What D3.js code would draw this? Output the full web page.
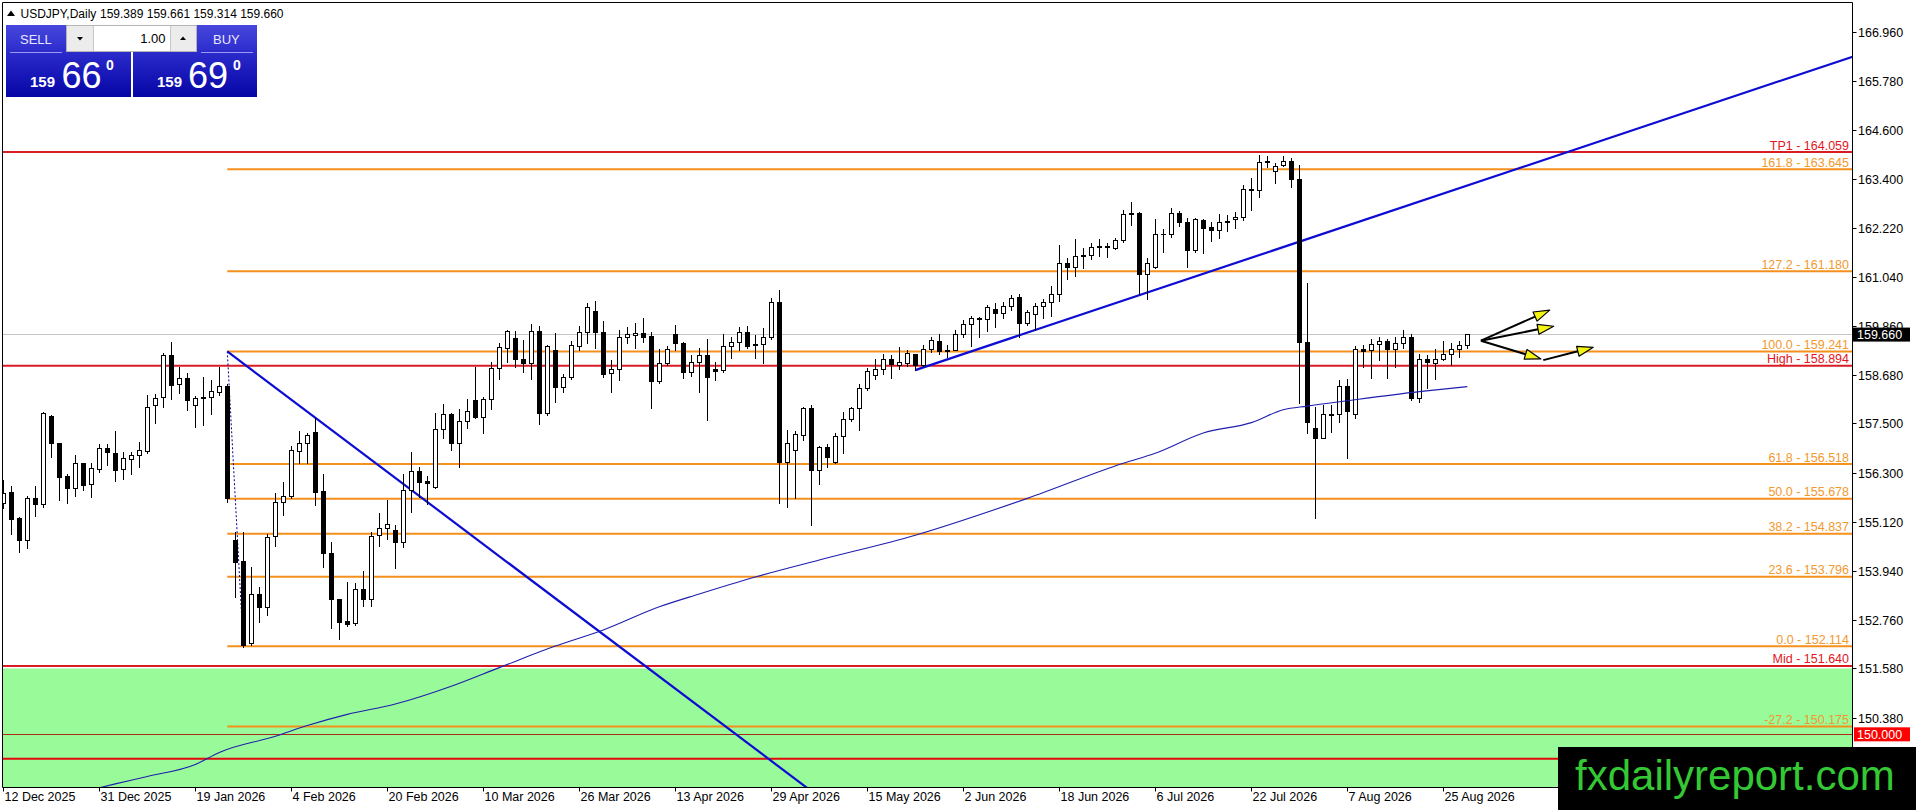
<!DOCTYPE html>
<html><head><meta charset="utf-8">
<script src="https://cdn.jsdelivr.net/npm/d3@7/dist/d3.min.js"></script>
<style>
html,body{margin:0;padding:0;background:#fff;overflow:hidden}
svg{display:block}
text{font-family:"Liberation Sans",Arial,sans-serif}
</style></head><body>
<svg id="chart" width="1916" height="810"></svg>
<script>
// ---------------- DATA ----------------
const symbolTitle = "USDJPY,Daily";
const lastOHLC = ["159.389", "159.661", "159.314", "159.660"];
const sellBig = "66", buyBig = "69", priceHandle = "159", lotSize = "1.00";

const opens = [155.57,155.84,155.22,154.68,155.69,155.55,157.68,157.02,156.24,155.95,156.54,156.03,156.39,156.91,156.78,156.39,156.65,156.75,156.84,157.95,
158.13,159.15,158.45,158.61,157.94,158.13,158.13,158.27,158.40,154.68,154.17,152.19,153.39,153.07,154.78,155.60,155.75,156.84,157.02,157.29,
155.86,154.36,153.25,152.73,152.69,153.50,153.27,154.80,154.98,154.93,154.64,155.89,156.35,156.11,155.97,157.36,157.72,157.04,157.55,158.07,
157.66,158.08,158.83,159.33,159.56,159.05,158.97,159.73,157.76,159.28,158.37,158.63,159.38,159.70,160.22,159.70,158.71,158.81,159.58,159.63,
159.68,159.61,158.53,158.95,159.66,159.44,158.75,158.98,159.15,158.81,158.79,159.36,159.46,159.70,159.40,159.41,159.60,160.43,156.58,156.86,
157.22,157.88,156.37,156.92,156.58,157.20,157.60,157.87,158.35,158.67,158.81,159.06,158.91,158.95,159.17,158.91,159.29,159.50,159.26,159.28,
159.65,159.90,160.06,160.02,160.26,160.16,160.35,160.56,159.92,160.14,160.34,160.43,160.64,161.38,161.27,161.55,161.57,161.77,161.79,161.73,
161.93,162.56,162.59,161.10,161.29,162.07,162.09,162.59,162.36,161.69,162.42,162.24,162.17,162.37,162.43,162.48,163.16,163.14,163.83,163.61,
163.75,163.84,163.41,159.48,157.38,157.16,157.74,157.74,158.41,157.74,159.29,159.27,159.41,159.49,159.29,159.44,159.58,158.12,159.06,158.95,
159.07,159.18,159.29,159.389];
const highs = [156.13,155.99,155.25,155.75,156.00,157.78,157.70,157.03,156.27,156.74,156.55,156.54,157.00,157.00,157.32,156.80,156.81,157.06,158.19,158.21,
159.20,159.47,158.86,158.71,158.16,158.62,158.55,158.86,158.45,154.88,154.88,154.04,153.56,154.84,155.81,156.08,156.96,157.33,157.26,157.64,
156.29,154.64,153.27,153.68,153.64,153.93,154.88,155.33,155.65,155.05,156.27,156.82,156.46,156.23,157.76,157.96,157.76,157.84,158.08,158.87,
158.13,158.99,159.45,159.76,159.73,159.52,159.90,159.86,159.40,159.68,158.69,159.50,159.86,160.40,160.46,159.98,159.03,159.76,159.84,159.92,
160.05,159.72,159.29,159.36,159.88,159.48,159.15,159.32,159.53,158.99,159.65,159.60,159.84,159.86,159.64,159.80,160.52,160.72,157.34,157.32,
157.91,157.95,156.96,157.00,157.26,157.78,157.91,158.45,158.83,159.07,159.19,159.15,159.34,159.27,159.19,159.40,159.60,159.66,159.40,159.77,
160.00,160.10,160.08,160.36,160.40,160.44,160.60,160.62,160.24,160.40,160.50,160.81,161.81,161.51,161.95,161.73,161.85,161.95,161.87,161.97,
162.67,162.86,162.60,161.51,162.44,162.20,162.70,162.64,162.46,162.46,162.44,162.38,162.56,162.54,162.62,163.26,163.42,163.99,163.96,163.79,
163.96,163.91,163.75,160.89,157.91,157.95,157.95,158.55,158.57,159.37,159.40,159.53,159.60,159.53,159.60,159.77,159.65,159.19,159.15,159.29,
159.49,159.44,159.49,159.661];
const lows = [155.45,154.84,154.40,154.50,155.26,155.49,156.70,155.65,155.57,155.75,155.89,155.73,156.33,156.50,156.12,156.17,156.28,156.46,156.78,157.52,
157.91,158.09,158.23,157.83,157.42,157.47,157.72,158.18,155.61,153.31,152.11,152.15,152.71,152.87,154.54,155.30,155.69,156.54,156.54,155.53,
154.04,152.55,152.28,152.60,152.63,153.10,153.09,154.55,154.71,154.00,154.52,155.35,155.73,155.55,155.95,157.14,156.86,156.46,157.38,157.64,
157.28,157.85,158.57,158.99,158.86,158.74,158.57,157.49,157.70,158.03,158.27,158.57,159.28,159.45,159.32,158.63,158.27,158.55,159.44,159.32,
159.48,157.88,158.49,158.91,159.28,158.61,158.65,158.27,157.58,158.55,158.75,159.09,159.28,159.32,159.09,158.95,159.53,155.57,155.49,155.69,
157.10,155.05,156.03,156.46,156.54,156.78,157.56,157.34,158.31,158.57,158.69,158.59,158.81,158.89,158.79,158.89,159.23,159.19,159.10,159.27,
159.58,159.38,159.60,159.74,159.84,160.06,160.23,159.60,159.88,159.76,160.06,160.10,160.47,160.98,161.06,161.26,161.47,161.55,161.53,161.71,
161.89,162.30,160.62,160.50,161.25,161.65,162.01,162.26,161.29,161.65,161.61,161.91,161.99,162.16,162.22,162.42,162.66,162.98,163.69,163.32,
163.71,163.22,157.99,157.26,155.21,157.14,157.30,157.54,156.67,157.64,158.87,158.59,159.03,158.61,158.86,159.32,158.07,158.03,158.35,158.57,
159.03,158.91,159.11,159.314];
const closes = [155.81,155.20,154.68,155.69,155.55,157.75,157.02,156.21,155.95,156.55,156.02,156.42,156.90,156.82,156.38,156.66,156.75,156.85,157.91,158.12,
159.15,158.44,158.61,158.06,158.11,158.11,158.28,158.40,155.69,154.16,152.15,153.39,153.07,154.76,155.61,155.75,156.85,157.02,157.22,155.85,
154.36,153.25,152.71,152.65,153.50,153.27,154.79,154.97,155.06,154.64,155.89,156.35,156.09,156.05,157.36,157.72,157.04,157.56,157.79,157.66,
158.09,158.83,159.34,159.73,159.06,158.97,159.73,157.76,159.37,158.39,158.63,159.40,159.70,160.31,159.70,158.69,158.81,159.58,159.65,159.68,
159.60,158.53,158.95,159.29,159.44,158.75,158.98,159.15,158.63,158.78,159.36,159.46,159.70,159.36,159.42,159.60,160.43,156.57,157.04,157.24,
157.88,156.37,156.92,156.68,157.20,157.60,157.88,158.35,158.78,158.81,159.06,158.93,158.98,159.21,158.91,159.29,159.52,159.25,159.28,159.65,
159.90,160.06,160.02,160.31,160.16,160.35,160.54,159.92,160.20,160.34,160.43,160.64,161.37,161.29,161.55,161.57,161.77,161.79,161.76,161.93,
162.56,162.58,161.10,161.37,162.07,162.09,162.58,162.36,161.69,162.43,162.23,162.17,162.36,162.39,162.48,163.16,163.13,163.83,163.85,163.73,
163.85,163.41,159.48,157.54,157.16,157.72,157.70,158.41,157.80,159.29,159.25,159.41,159.49,159.30,159.44,159.58,158.12,159.05,158.98,159.07,
159.19,159.29,159.39,159.660];

const dateLabelBars = [0,12,24,36,48,60,72,84,96,108,120,132,144,156,168,180];
const dateLabels = ["12 Dec 2025","31 Dec 2025","19 Jan 2026","4 Feb 2026","20 Feb 2026","10 Mar 2026","26 Mar 2026","13 Apr 2026",
  "29 Apr 2026","15 May 2026","2 Jun 2026","18 Jun 2026","6 Jul 2026","22 Jul 2026","7 Aug 2026","25 Aug 2026"];
const priceTicks = [166.960,165.780,164.600,163.400,162.220,161.040,159.860,158.680,157.500,156.300,155.120,153.940,152.760,151.580,150.380];

// moving average, read at key bars
const maBars   = [10,14,18,24,27,34,38,43,49,56,62,69,75,82,87,94,102,114,128,140,144,150,156,160,163,168,177,183];
const maValues = [148.60,148.79,148.97,149.26,149.55,149.94,150.20,150.47,150.72,151.15,151.60,152.12,152.51,153.07,153.38,153.79,154.20,154.80,155.69,156.54,156.78,157.27,157.52,157.83,157.92,158.05,158.27,158.39];

// fibonacci expansion
const fibStartBar = 28;
const fibPct   = ["161.8","127.2","100.0","61.8","50.0","38.2","23.6","0.0","-27.2"];
const fibPrice = [163.645,161.180,159.241,156.518,155.678,154.837,153.796,152.114,150.175];
const fibAnchorBars = [28, 30];
const fibAnchorPrices = [159.241, 152.114];

// red horizontal levels
const redNames  = ["TP1","High","Mid"];
const redPrices = [164.059,158.894,151.640];
const extraRedLevel = 149.40;
const roundLevel = 150.000;
const zoneTop = 151.58;

// trend lines (two anchors each, extended to the right)
const trendBars   = [[28, 39], [114, 142]];
const trendPrices = [[159.241, 157.64], [158.79, 160.60]];

// arrows
const arrowFromBar   = [184.7, 184.7, 184.7, 192.5];
const arrowFromPrice = [159.50, 159.50, 159.50, 159.03];
const arrowToBar     = [193.3, 193.8, 192.2, 198.75];
const arrowToPrice   = [160.24, 159.85, 159.06, 159.34];

// ---------------- DRAW ----------------
const svg = d3.select("#chart");
const L = 2.5, T = 2.5, R = 1852.5, B = 787.5;
const x = d3.scaleLinear().domain([0, 1]).range([3.3, 11.3]);
const y = d3.scaleLinear().domain([148.715, 167.673]).range([787, 2.5]);
const px = v => Math.round(x(v));
const py = v => Math.round(y(v));

svg.append("rect").attr("width",1916).attr("height",810).attr("fill","#fff");
svg.append("defs").append("clipPath").attr("id","plot")
  .append("rect").attr("x",L).attr("y",T).attr("width",R-L).attr("height",B-T);
const defs = svg.select("defs");
const grad = defs.append("linearGradient").attr("id","btn").attr("x1",0).attr("y1",0).attr("x2",0).attr("y2",1);
grad.append("stop").attr("offset","0%").attr("stop-color","#4747dd");
grad.append("stop").attr("offset","40%").attr("stop-color","#2a2acb");
grad.append("stop").attr("offset","100%").attr("stop-color","#0505a6");

const plot = svg.append("g").attr("clip-path","url(#plot)");

// green zone
plot.append("rect").attr("x",L).attr("y",y(zoneTop)).attr("width",R-L).attr("height",B-y(zoneTop)).attr("fill","#99fa99");

// current price line
plot.append("line").attr("x1",L).attr("x2",R).attr("y1",py(+lastOHLC[3])+0.5).attr("y2",py(+lastOHLC[3])+0.5)
  .attr("stroke","#c4c4c4").attr("stroke-width",1);

// red levels
redPrices.forEach(p => {
  plot.append("line").attr("x1",L).attr("x2",R).attr("y1",y(p)).attr("y2",y(p)).attr("stroke","#d91c24").attr("stroke-width",2);
});
plot.append("line").attr("x1",L).attr("x2",R).attr("y1",py(roundLevel)+0.5).attr("y2",py(roundLevel)+0.5).attr("stroke","#b02a1a").attr("stroke-width",1);
plot.append("line").attr("x1",L).attr("x2",R).attr("y1",y(extraRedLevel)).attr("y2",y(extraRedLevel)).attr("stroke","#e20a0a").attr("stroke-width",2);

// fib lines
fibPrice.forEach(p => {
  plot.append("line").attr("x1",x(fibStartBar)).attr("x2",R).attr("y1",y(p)).attr("y2",y(p)).attr("stroke","#f4901c").attr("stroke-width",2);
});
// fib dotted anchor line
plot.append("line").attr("x1",x(fibAnchorBars[0])).attr("y1",y(fibAnchorPrices[0]))
  .attr("x2",x(fibAnchorBars[1])).attr("y2",y(fibAnchorPrices[1]))
  .attr("stroke","#00008c").attr("stroke-width",1).attr("stroke-dasharray","2,2");

// trend lines
trendBars.forEach((b, k) => {
  const [b1, b2] = b, [p1, p2] = trendPrices[k];
  const slope = (p2 - p1) / (b2 - b1);
  const bEnd = 260;
  plot.append("line").attr("x1",x(b1)).attr("y1",y(p1)).attr("x2",x(bEnd)).attr("y2",y(p1 + slope*(bEnd-b1)))
    .attr("stroke","#0c0cd2").attr("stroke-width",2.2);
});

// candles
const idx = d3.range(opens.length);
const cg = plot.append("g");
idx.forEach(i => {
  const xi = px(i);
  cg.append("line").attr("x1",xi+0.5).attr("x2",xi+0.5).attr("y1",py(highs[i])).attr("y2",py(lows[i])+1)
    .attr("stroke","#000").attr("stroke-width",1);
  const top = py(Math.max(opens[i],closes[i])), bot = py(Math.min(opens[i],closes[i]));
  const up = closes[i] >= opens[i];
  if (bot - top < 1) {
    cg.append("line").attr("x1",xi-2).attr("x2",xi+3).attr("y1",top+0.5).attr("y2",top+0.5).attr("stroke","#000");
  } else {
    cg.append("rect").attr("x",xi-1.5).attr("y",top+0.5).attr("width",4).attr("height",bot-top)
      .attr("fill", up ? "#fff" : "#000").attr("stroke","#000").attr("stroke-width",1);
  }
});

// moving average
const maPts = maBars.map((b,k)=>[b, maValues[k]]);
plot.append("path").datum(maPts)
  .attr("d", d3.line().curve(d3.curveMonotoneX).x(d=>x(d[0])).y(d=>y(d[1])))
  .attr("fill","none").attr("stroke","#1f1fae").attr("stroke-width",1.1);

// arrows
arrowFromBar.forEach((b,k) => {
  const x1 = x(b), y1 = y(arrowFromPrice[k]), x2 = x(arrowToBar[k]), y2 = y(arrowToPrice[k]);
  const dx = x2-x1, dy = y2-y1, len = Math.hypot(dx,dy), ux = dx/len, uy = dy/len;
  const hl = 16, hw = 5;
  const bx = x2-ux*hl, by = y2-uy*hl;
  plot.append("line").attr("x1",x1).attr("y1",y1).attr("x2",bx).attr("y2",by).attr("stroke","#000").attr("stroke-width",2);
  plot.append("path").attr("d",`M${x2},${y2}L${bx-uy*hw},${by+ux*hw}L${bx+uy*hw},${by-ux*hw}Z`)
    .attr("fill","#f4f414").attr("stroke","#000").attr("stroke-width",1.2).attr("stroke-linejoin","round");
});

// level labels
const lab = svg.append("g").attr("font-size","12.5px").attr("text-anchor","end");
fibPrice.forEach((p,k) => {
  lab.append("text").attr("x",1849).attr("y",y(p)-2.5).attr("fill","#f2992e").text(`${fibPct[k]} - ${p.toFixed(3)}`);
});
redPrices.forEach((p,k) => {
  lab.append("text").attr("x",1849).attr("y",y(p)-2.5).attr("fill","#e3141c").text(`${redNames[k]} - ${p.toFixed(3)}`);
});

// frame
svg.append("line").attr("x1",L).attr("x2",L).attr("y1",T).attr("y2",B).attr("stroke","#000");
svg.append("line").attr("x1",L).attr("x2",R).attr("y1",T).attr("y2",T).attr("stroke","#000");
svg.append("line").attr("x1",R).attr("x2",R).attr("y1",T).attr("y2",B).attr("stroke","#000");
svg.append("line").attr("x1",L).attr("x2",R).attr("y1",B).attr("y2",B).attr("stroke","#000");

// price axis
const pa = svg.append("g").attr("font-size","12.5px");
priceTicks.forEach(p => {
  const yy = py(p)+0.5;
  pa.append("line").attr("x1",R).attr("x2",R+4).attr("y1",yy).attr("y2",yy).attr("stroke","#000");
  pa.append("text").attr("x",1858).attr("y",yy+4.5).attr("fill","#000").text(p.toFixed(3));
});
// current price box
const cy = y(+lastOHLC[3]);
pa.append("rect").attr("x",1853).attr("y",cy-6.5).attr("width",57).attr("height",14).attr("fill","#000");
pa.append("text").attr("x",1857).attr("y",cy+5).attr("fill","#fff").text(lastOHLC[3]);
// round level box
const ry = y(roundLevel);
pa.append("rect").attr("x",1854).attr("y",ry-6.5).attr("width",56).attr("height",14).attr("fill","#ff0000");
pa.append("text").attr("x",1857).attr("y",ry+5).attr("fill","#fff").text(roundLevel.toFixed(3));

// time axis
const ta = svg.append("g").attr("font-size","12.5px");
dateLabelBars.forEach((b,k) => {
  const xx = px(b)+0.5;
  ta.append("line").attr("x1",xx).attr("x2",xx).attr("y1",B).attr("y2",B+4).attr("stroke","#000");
  ta.append("text").attr("x",xx+1).attr("y",801).attr("fill","#000").text(dateLabels[k]);
});

// header
const hd = svg.append("g").attr("font-size","12px").attr("fill","#000");
hd.append("path").attr("d","M7,16L11,10.5L15,16Z").attr("fill","#000");
hd.append("text").attr("x",20.5).attr("y",17.5).text(symbolTitle);
hd.append("text").attr("x",100).attr("y",17.5).text(lastOHLC.join(" "));

// one-click trading panel
const tp = svg.append("g");
tp.append("rect").attr("x",6).attr("y",25).attr("width",125).attr("height",72).attr("fill","url(#btn)");
tp.append("rect").attr("x",133).attr("y",25).attr("width",124).attr("height",72).attr("fill","url(#btn)");
tp.append("line").attr("x1",10).attr("x2",62).attr("y1",52.5).attr("y2",52.5).attr("stroke","#9a9af0");
tp.append("line").attr("x1",201).attr("x2",253).attr("y1",52.5).attr("y2",52.5).attr("stroke","#9a9af0");
tp.append("text").attr("x",20).attr("y",43.5).attr("font-size","13px").attr("fill","#e8e8ff").text("SELL");
tp.append("text").attr("x",213).attr("y",43.5).attr("font-size","13px").attr("fill","#e8e8ff").text("BUY");
// lot box
tp.append("rect").attr("x",66.5).attr("y",25.5).attr("width",130).attr("height",26).attr("fill","#fff").attr("stroke","#b4b4b4");
tp.append("rect").attr("x",67).attr("y",26).attr("width",26).attr("height",25).attr("fill","#ececec");
tp.append("rect").attr("x",171).attr("y",26).attr("width",25).attr("height",25).attr("fill","#ececec");
tp.append("line").attr("x1",93.5).attr("x2",93.5).attr("y1",26).attr("y2",51).attr("stroke","#c8c8c8");
tp.append("line").attr("x1",170.5).attr("x2",170.5).attr("y1",26).attr("y2",51).attr("stroke","#c8c8c8");
tp.append("path").attr("d","M77,37L83,37L80,40.5Z").attr("fill","#000");
tp.append("path").attr("d","M180,40L186,40L183,36.5Z").attr("fill","#000");
tp.append("text").attr("x",165.5).attr("y",43).attr("font-size","13px").attr("text-anchor","end").attr("fill","#000").text(lotSize);
// prices
[[30,61.5,106,sellBig],[157,188,233,buyBig]].forEach(([a,b,c,big]) => {
  tp.append("text").attr("x",a).attr("y",87).attr("font-size","15px").attr("font-weight","bold").attr("fill","#fff").text(priceHandle);
  tp.append("text").attr("x",b).attr("y",87.5).attr("font-size","36px").attr("fill","#fff").text(big);
  tp.append("text").attr("x",c).attr("y",70).attr("font-size","14px").attr("font-weight","bold").attr("fill","#fff").text("0");
});

// watermark
svg.append("rect").attr("x",1558).attr("y",747).attr("width",358).attr("height",63).attr("fill","#000");
svg.append("text").attr("x",1575).attr("y",790).attr("font-size","42px").attr("fill","#34c934").text("fxdailyreport.com");
</script>
</body></html>
